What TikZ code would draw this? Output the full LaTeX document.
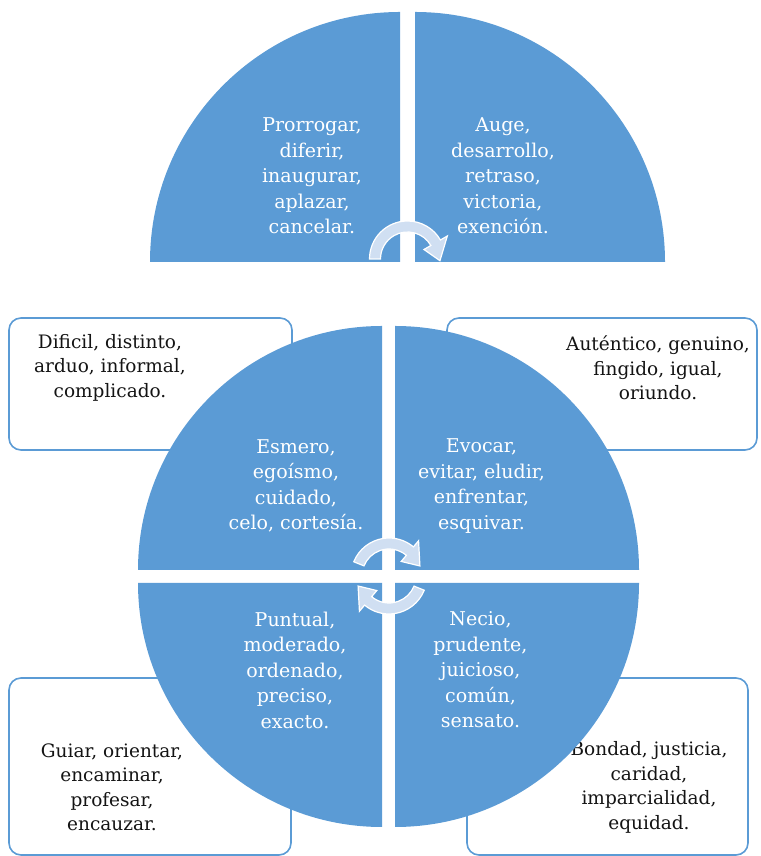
\documentclass[tikz,border=0pt]{standalone}
\usepackage{fontspec}
\setmainfont{DejaVu Serif}
\usetikzlibrary{calc}
\definecolor{cuadrante}{RGB}{91,155,213}
\definecolor{flecha}{RGB}{208,223,242}
\definecolor{texto}{RGB}{20,20,20}

\begin{document}
\begin{tikzpicture}[x=1pt,y=1pt,
  caja/.style={draw=cuadrante, line width=1.6pt, rounded corners=12pt, fill=white},
  cuarto/.style={fill=cuadrante},
  blanco/.style={text=white, align=center, font=\fontsize{19}{25.5}\selectfont},
  negro/.style={text=texto, align=center, font=\fontsize{18.5}{24.5}\selectfont},
  giro/.style={fill=flecha, draw=white, line width=1.2pt}]
  \useasboundingbox (0,0) rectangle (760,856);

  % cajas de fondo
  \draw[caja] (9,406) rectangle (292,538);
  \draw[caja] (447,406) rectangle (757,538);
  \draw[caja] (9,1) rectangle (291,178);
  \draw[caja] (467,1) rectangle (748,178);
  \node[negro] (cajaA) at (110,488.5) {Dificil, distinto,\\arduo, informal,\\complicado.};
  \node[negro] (cajaB) at (658,488) {Auténtico, genuino,\\fingido, igual,\\oriundo.};
  \node[negro] (cajaC) at (112,68.5) {Guiar, orientar,\\encaminar,\\profesar,\\encauzar.};
  \node[negro] (cajaD) at (649,68.5) {Bondad, justicia,\\caridad,\\imparcialidad,\\equidad.};

  % semicirculo de arriba
  \fill[cuarto] (400,594) -- (150,594) arc[start angle=180, end angle=90, radius=250] -- cycle;
  \fill[cuarto] (415,594) -- (415,844) arc[start angle=90, end angle=0, radius=250] -- cycle;
  \node[blanco] (arribaIzq) at (312,680) {Prorrogar,\\diferir,\\inaugurar,\\aplazar,\\cancelar.};
  \node[blanco] (arribaDer) at (503,680) {Auge,\\desarrollo,\\retraso,\\victoria,\\exención.};

  % circulo de abajo
  \fill[cuarto] (382,286) -- (138,286) arc[start angle=180, end angle=90, radius=244] -- cycle;
  \fill[cuarto] (395,286) -- (395,530) arc[start angle=90, end angle=0, radius=244] -- cycle;
  \fill[cuarto] (382,273) -- (382,29) arc[start angle=270, end angle=180, radius=244] -- cycle;
  \fill[cuarto] (395,273) -- (639,273) arc[start angle=0, end angle=-90, radius=244] -- cycle;
  \node[blanco] (supIzq) at (296,370) {Esmero,\\egoísmo,\\cuidado,\\celo, cortesía.};
  \node[blanco] (supDer) at (481.5,370) {Evocar,\\evitar, eludir,\\enfrentar,\\esquivar.};
  \node[blanco] (infIzq) at (295,186) {Puntual,\\moderado,\\ordenado,\\preciso,\\exacto.};
  \node[blanco] (infDer) at (480.5,186) {Necio,\\prudente,\\juicioso,\\común,\\sensato.};

  % flechas de giro
  \coordinate (giroA) at (407.5,597);
  \coordinate (giroB) at (389,280);
  \draw[giro] ($(giroA)+(180:38)$) arc[start angle=180, end angle=30, radius=38]
    -- ($(giroA)+(30:46)$) -- ($(giroA)+(-3:32.5)$) -- ($(giroA)+(30:19)$)
    -- ($(giroA)+(30:27)$) arc[start angle=30, end angle=180, radius=27] -- cycle;
  \draw[giro] ($(giroB)+(158:38)$) arc[start angle=158, end angle=50, radius=38]
    -- ($(giroB)+(50:46)$) -- ($(giroB)+(18:32.5)$) -- ($(giroB)+(50:19)$)
    -- ($(giroB)+(50:27)$) arc[start angle=50, end angle=158, radius=27] -- cycle;
  \draw[giro] ($(giroB)+(-22:38)$) arc[start angle=-22, end angle=-130, radius=38]
    -- ($(giroB)+(-130:46)$) -- ($(giroB)+(-162:32.5)$) -- ($(giroB)+(-130:19)$)
    -- ($(giroB)+(-130:27)$) arc[start angle=-130, end angle=-22, radius=27] -- cycle;
\end{tikzpicture}
\end{document}
